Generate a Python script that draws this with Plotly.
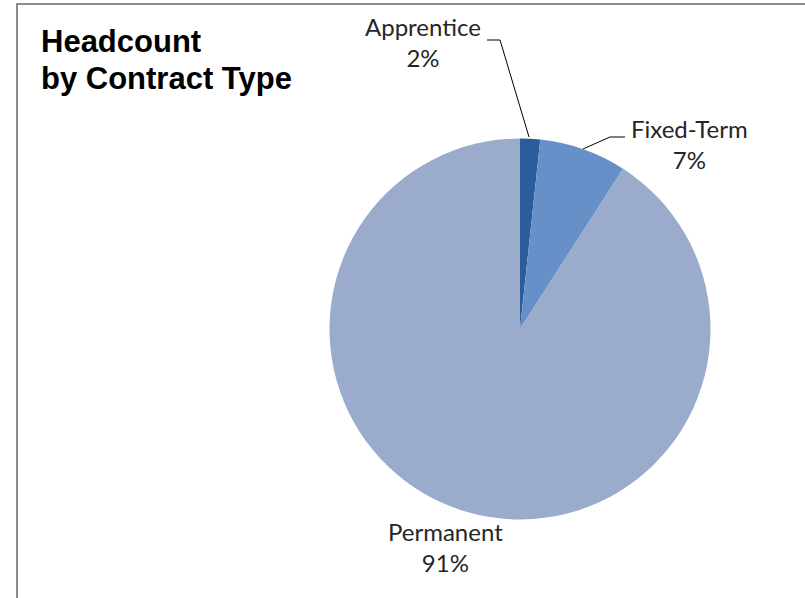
import plotly.graph_objects as go

# ---- data ----
categories = ["Apprentice", "Fixed-Term", "Permanent"]
shares = [1.7, 7.4, 90.9]
title_lines = ["Headcount", "by Contract Type"]

W, H = 805, 598
def px(x):
    return x / W
def py(y):
    return 1 - y / H

colors = ["#2B5D9C", "#6890C8", "#9AABCB"]

total = sum(shares)
pct_text = [f"{c}<br>{round(v / total * 100)}%" for c, v in zip(categories, shares)]

# pie geometry (pixels)
cx, cy, r = 520, 329, 190.5

fig = go.Figure()
fig.add_trace(go.Pie(
    labels=categories,
    values=shares,
    sort=False,
    direction="clockwise",
    rotation=0,
    textinfo="none",
    hoverinfo="label+percent",
    marker=dict(colors=colors, line=dict(width=0)),
    domain=dict(x=[px(cx - r), px(cx + r)], y=[py(cy + r), py(cy - r)]),
    showlegend=False,
))

# label annotations (positions in pixels)
label_pos = [(423, 42), (689, 144), (446, 547)]
annotations = []
for txt, (x, y) in zip(pct_text, label_pos):
    annotations.append(dict(
        x=px(x), y=py(y), xref="paper", yref="paper",
        text=txt, showarrow=False, xanchor="center", yanchor="middle",
        align="center",
        font=dict(family="Lato, Open Sans, sans-serif", size=24, color="#262626"),
    ))

title_pos = [(39, 42), (39, 78)]
for txt, (x, y) in zip(title_lines, title_pos):
    annotations.append(dict(
        x=px(x), y=py(y), xref="paper", yref="paper",
        text=f"<b>{txt}</b>", showarrow=False, xanchor="left", yanchor="middle",
        font=dict(family="Liberation Sans, Arial, sans-serif", size=31, color="#000000"),
    ))

def path(pts):
    return "M " + " L ".join(f"{px(x)},{py(y)}" for x, y in pts)

leaders = [
    [(487, 40), (500, 40), (529, 137)],
    [(625, 137), (610, 137), (583, 149)],
]
shapes = [dict(type="path", xref="paper", yref="paper", path=path(p),
               line=dict(color="#000000", width=1)) for p in leaders]
# chart border
shapes.append(dict(type="rect", xref="paper", yref="paper",
                   x0=px(17), y0=py(4), x1=px(830), y1=py(630),
                   line=dict(color="#8C8C8C", width=2), fillcolor="rgba(0,0,0,0)"))

fig.update_layout(
    width=W, height=H,
    margin=dict(l=0, r=0, t=0, b=0),
    paper_bgcolor="#FFFFFF",
    plot_bgcolor="#FFFFFF",
    annotations=annotations,
    shapes=shapes,
)

fig.write_html("out.html")
